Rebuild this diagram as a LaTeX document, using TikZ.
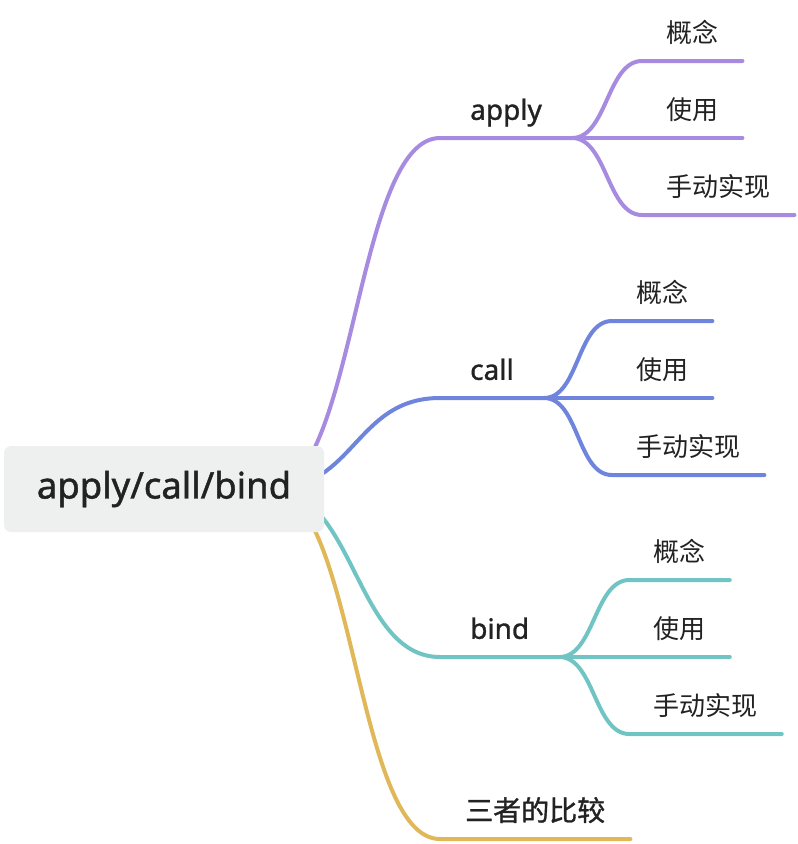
\documentclass[tikz,border=0pt]{standalone}
\usepackage{fontspec}
\setmainfont{Noto Sans}
\newfontfamily\cjk{Noto Sans CJK SC}
\newfontfamily\medsans{Noto Sans}[FakeBold=1.2]
\newfontfamily\medcjk{Noto Sans CJK SC}[FakeBold=1.2]
\usepackage{tikz}
\usetikzlibrary{backgrounds}

\definecolor{rootfill}{RGB}{238,240,239}
\definecolor{txt}{RGB}{34,34,34}
\definecolor{applyc}{RGB}{166,139,224}
\definecolor{callc}{RGB}{111,132,220}
\definecolor{bindc}{RGB}{112,196,196}
\definecolor{cmpc}{RGB}{224,184,90}

\tikzset{
  rootbox/.style={rectangle, rounded corners=7pt, fill=rootfill, minimum width=320pt, minimum height=86pt, text=txt, font=\fontsize{36.5}{40}\medsans},
  topic/.style={anchor=south west, inner xsep=30pt, inner ysep=0pt, text height=22pt, text depth=18pt, text=txt, font=\fontsize{28}{32}\medsans},
  leaf/.style={anchor=south west, inner xsep=24pt, inner ysep=0pt, text height=20pt, text depth=18pt, text=txt, font=\fontsize{26}{30}\cjk},
  branch/.style={line width=4pt, line cap=round}
}

\begin{document}
\begin{tikzpicture}[x=1pt, y=-1pt]
            \useasboundingbox (0,0) rectangle (798,844);
            \node[rootbox] (root) at (164,489) {apply/call/bind};
            \coordinate (hub) at ([xshift=-54pt]root.east);
            \node[topic] (apply) at (440,138) {apply};
            \node[topic] (call) at (440,398) {call};
            \node[topic] (bind) at (440,657) {bind};
            \node[topic, inner xsep=25pt] (cmp) at (440,839) {\medcjk 三者的比较};
            \node[leaf] (apply-a) at ([shift={(70,-77)}]apply.south east) {概念};
            \node[leaf] (apply-b) at ([shift={(70,0)}]apply.south east) {使用};
            \node[leaf] (apply-c) at ([shift={(70,77)}]apply.south east) {手动实现};
            \node[leaf] (call-a) at ([shift={(68,-77)}]call.south east) {概念};
            \node[leaf] (call-b) at ([shift={(68,0)}]call.south east) {使用};
            \node[leaf] (call-c) at ([shift={(68,77)}]call.south east) {手动实现};
            \node[leaf] (bind-a) at ([shift={(70,-77)}]bind.south east) {概念};
            \node[leaf] (bind-b) at ([shift={(70,0)}]bind.south east) {使用};
            \node[leaf] (bind-c) at ([shift={(70,77)}]bind.south east) {手动实现};
            \begin{pgfonlayer}{background}
            \draw[branch, applyc] (hub) .. controls +(85,0) and +(-85,0) .. (apply.south west) -- (apply.south east);
            \draw[branch, callc] (hub) .. controls +(85,0) and +(-85,0) .. (call.south west) -- (call.south east);
            \draw[branch, bindc] (hub) .. controls +(85,0) and +(-85,0) .. (bind.south west) -- (bind.south east);
            \draw[branch, cmpc] (hub) .. controls +(85,0) and +(-85,0) .. (cmp.south west) -- (cmp.south east);
            \foreach \t/\c in {apply/applyc, call/callc, bind/bindc} {
                \foreach \s in {a,b,c}
                    \draw[branch, \c] (\t.south east) .. controls +(35,0) and +(-35,0) .. (\t-\s.south west) -- (\t-\s.south east);
            }
            \end{pgfonlayer}
\end{tikzpicture}
\end{document}
